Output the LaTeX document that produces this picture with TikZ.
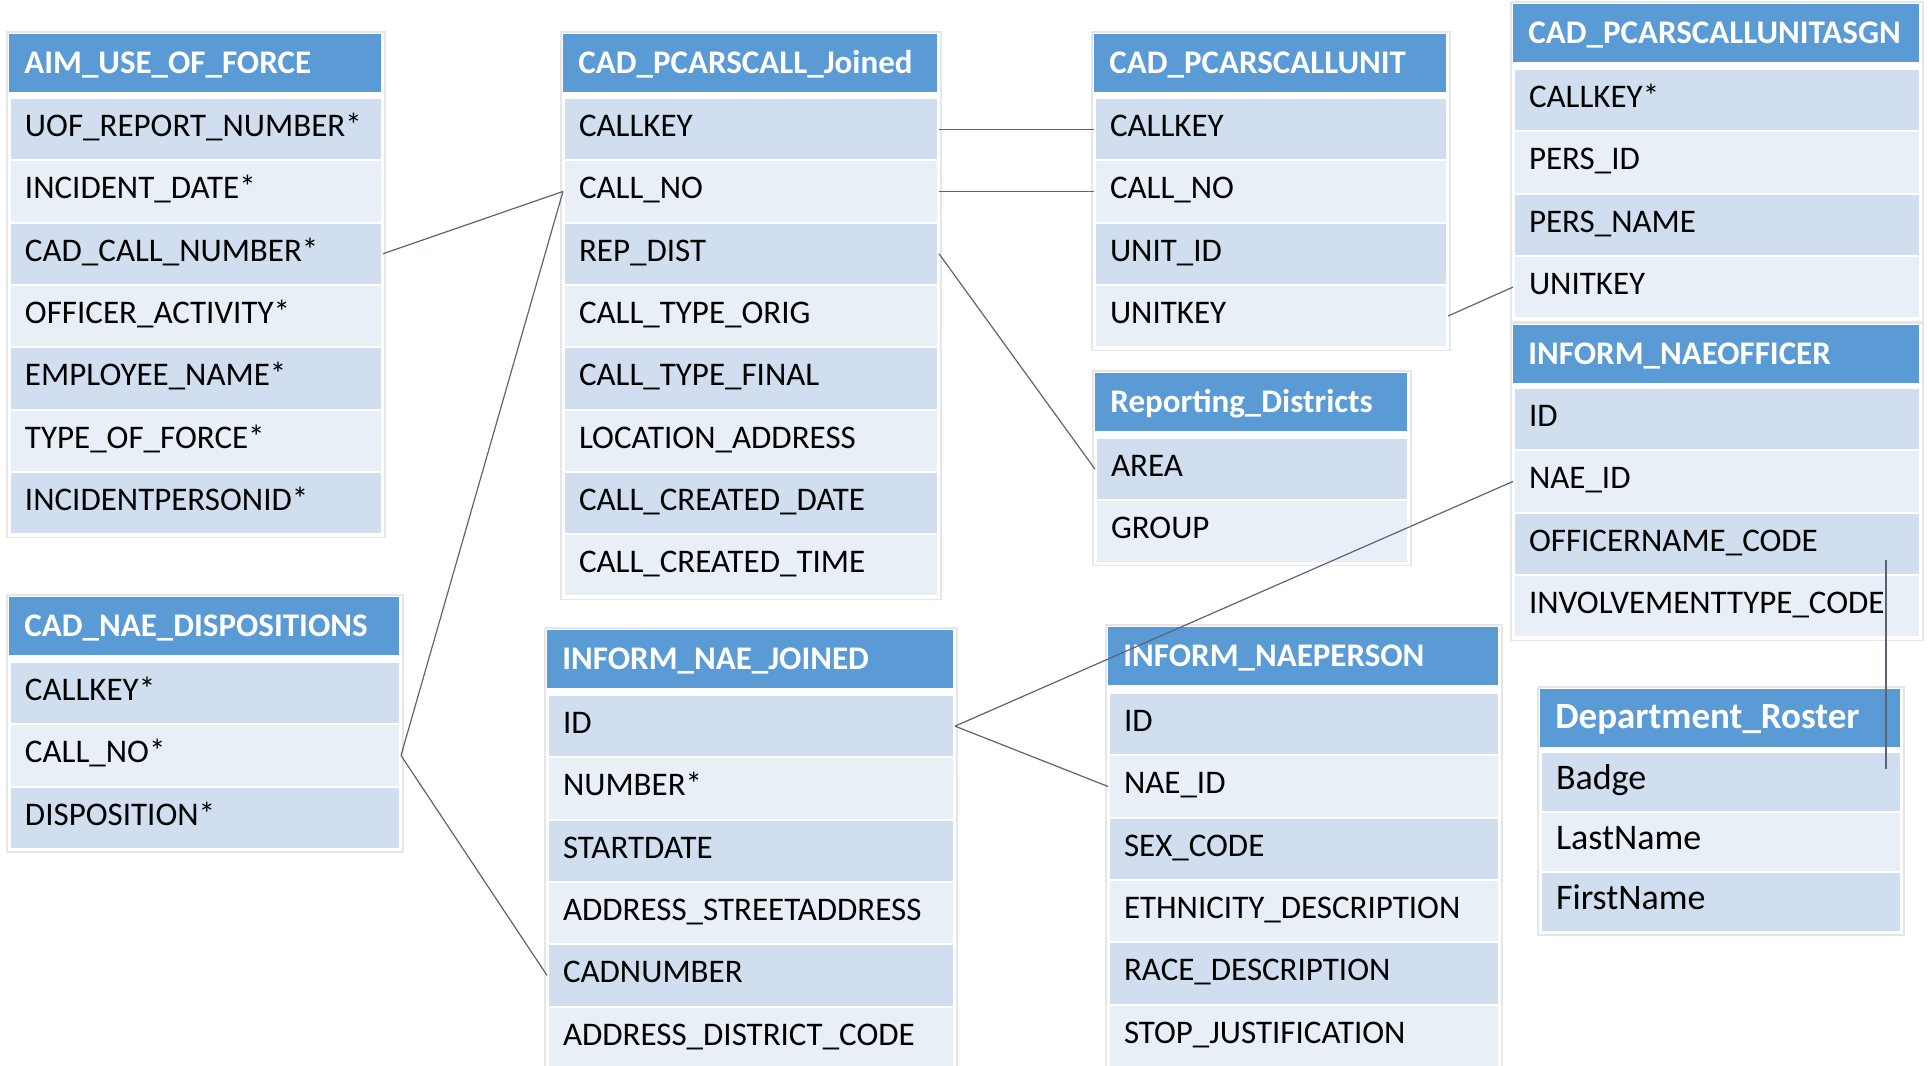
\documentclass[tikz,border=0pt]{standalone}
\usepackage{fontspec}
\setmainfont{Carlito}
\usepackage{xcolor}
\usepackage{tikz}

\definecolor{hdrblue}{HTML}{5B9BD5}
\definecolor{band1}{HTML}{D0DEEF}
\definecolor{band0}{HTML}{E9EFF7}
\definecolor{linkgray}{HTML}{5A6377}
\definecolor{framegray}{HTML}{E4E6EA}

\begin{document}
\begin{tikzpicture}[x=0.5pt, y=-0.5pt,
    tabhead/.style={anchor=north west, fill=hdrblue, text=white, font=\fontsize{16.5}{19}\selectfont\bfseries,
      inner xsep=7.5pt, inner ysep=0pt, minimum height=29pt, text height=11pt, text depth=1pt,
      text width=#1*0.5pt-15pt, align=left},
    tabrow/.style={anchor=north west, draw=white, line width=1pt, font=\fontsize{16.5}{19}\selectfont,
      inner xsep=7.5pt, inner ysep=0pt, minimum height=31.15pt, text height=11pt, text depth=3.5pt,
      text width=#1*0.5pt-15pt, align=left},
    tabframe/.style={draw=framegray, line width=0.6pt},
    link/.style={draw=linkgray, line width=0.6pt}]
      \useasboundingbox (0,0) rectangle (1929,1066);

      % AIM_USE_OF_FORCE
      \node[tabhead=372] (uof) at (9,34) {AIM\_USE\_OF\_FORCE};
      \foreach \txt [count=\i, evaluate=\i as \bnd using {int(mod(\i,2))}] in
        {UOF\_REPORT\_NUMBER*, INCIDENT\_DATE*, CAD\_CALL\_NUMBER*, OFFICER\_ACTIVITY*,
         EMPLOYEE\_NAME*, TYPE\_OF\_FORCE*, INCIDENTPERSONID*}
        \node[tabrow=372, fill=band\bnd] (uof-\i) at (9,{97+(\i-1)*62.3}) {\txt};

      % CAD_PCARSCALL_Joined
      \node[tabhead=374] (call) at (563,34) {CAD\_PCARSCALL\_Joined};
      \foreach \txt [count=\i, evaluate=\i as \bnd using {int(mod(\i,2))}] in
        {CALLKEY, CALL\_NO, REP\_DIST, CALL\_TYPE\_ORIG, CALL\_TYPE\_FINAL,
         LOCATION\_ADDRESS, CALL\_CREATED\_DATE, CALL\_CREATED\_TIME}
        \node[tabrow=374, fill=band\bnd] (call-\i) at (563,{97+(\i-1)*62.3}) {\txt};

      % CAD_PCARSCALLUNIT
      \node[tabhead=352] (unit) at (1094,34) {CAD\_PCARSCALLUNIT};
      \foreach \txt [count=\i, evaluate=\i as \bnd using {int(mod(\i,2))}] in
        {CALLKEY, CALL\_NO, UNIT\_ID, UNITKEY}
        \node[tabrow=352, fill=band\bnd] (unit-\i) at (1094,{97+(\i-1)*62.3}) {\txt};

      % CAD_PCARSCALLUNITASGN
      \node[tabhead=406] (asgn) at (1513,4) {CAD\_PCARSCALLUNITASGN};
      \foreach \txt [count=\i, evaluate=\i as \bnd using {int(mod(\i,2))}] in
        {CALLKEY*, PERS\_ID, PERS\_NAME, UNITKEY}
        \node[tabrow=406, fill=band\bnd] (asgn-\i) at (1513,{68+(\i-1)*62.3}) {\txt};

      % INFORM_NAEOFFICER
      \node[tabhead=406] (off) at (1513,325) {INFORM\_NAEOFFICER};
      \foreach \txt [count=\i, evaluate=\i as \bnd using {int(mod(\i,2))}] in
        {ID, NAE\_ID, OFFICERNAME\_CODE, INVOLVEMENTTYPE\_CODE}
        \node[tabrow=406, fill=band\bnd] (off-\i) at (1513,{387+(\i-1)*62.3}) {\txt};

      % Reporting_Districts
      \node[tabhead=312] (rd) at (1095,373) {Reporting\_Districts};
      \foreach \txt [count=\i, evaluate=\i as \bnd using {int(mod(\i,2))}] in
        {AREA, GROUP}
        \node[tabrow=312, fill=band\bnd] (rd-\i) at (1095,{437+(\i-1)*62.3}) {\txt};

      % INFORM_NAEPERSON
      \node[tabhead=390] (pers) at (1108,627) {INFORM\_NAEPERSON};
      \foreach \txt [count=\i, evaluate=\i as \bnd using {int(mod(\i,2))}] in
        {ID, NAE\_ID, SEX\_CODE, ETHNICITY\_DESCRIPTION, RACE\_DESCRIPTION, STOP\_JUSTIFICATION}
        \node[tabrow=390, fill=band\bnd] (pers-\i) at (1108,{692+(\i-1)*62.3}) {\txt};

      % INFORM_NAE_JOINED
      \node[tabhead=406] (nae) at (547,630) {INFORM\_NAE\_JOINED};
      \foreach \txt [count=\i, evaluate=\i as \bnd using {int(mod(\i,2))}] in
        {ID, NUMBER*, STARTDATE, ADDRESS\_STREETADDRESS, CADNUMBER, ADDRESS\_DISTRICT\_CODE}
        \node[tabrow=406, fill=band\bnd] (nae-\i) at (547,{694+(\i-1)*62.3}) {\txt};

      % CAD_NAE_DISPOSITIONS
      \node[tabhead=390] (disp) at (9,597) {CAD\_NAE\_DISPOSITIONS};
      \foreach \txt [count=\i, evaluate=\i as \bnd using {int(mod(\i,2))}] in
        {CALLKEY*, CALL\_NO*, DISPOSITION*}
        \node[tabrow=390, fill=band\bnd] (disp-\i) at (9,{661+(\i-1)*62.3}) {\txt};

      % Department_Roster
      \node[tabhead=360, font=\fontsize{18.5}{21}\selectfont\bfseries] (roster) at (1540,689) {Department\_Roster};
      \foreach \txt [count=\i, evaluate=\i as \bnd using {int(mod(\i,2))}] in
        {Badge, LastName, FirstName}
        \node[tabrow=360, minimum height=30pt, font=\fontsize{18}{21}\selectfont, fill=band\bnd]
          (roster-\i) at (1540,{751+(\i-1)*60}) {\txt};

      % faint frames round the tables
      \draw[tabframe] ([shift={(-1pt,1pt)}]uof.north west) rectangle ([shift={(1pt,-1pt)}]uof-7.south east);
      \draw[tabframe] ([shift={(-1pt,1pt)}]call.north west) rectangle ([shift={(1pt,-1pt)}]call-8.south east);
      \draw[tabframe] ([shift={(-1pt,1pt)}]unit.north west) rectangle ([shift={(1pt,-1pt)}]unit-4.south east);
      \draw[tabframe] ([shift={(-1pt,1pt)}]asgn.north west) rectangle ([shift={(1pt,-1pt)}]asgn-4.south east);
      \draw[tabframe] ([shift={(-1pt,1pt)}]off.north west) rectangle ([shift={(1pt,-1pt)}]off-4.south east);
      \draw[tabframe] ([shift={(-1pt,1pt)}]rd.north west) rectangle ([shift={(1pt,-1pt)}]rd-2.south east);
      \draw[tabframe] ([shift={(-1pt,1pt)}]pers.north west) rectangle ([shift={(1pt,0pt)}]pers-6.south east);
      \draw[tabframe] ([shift={(-1pt,1pt)}]nae.north west) rectangle ([shift={(1pt,0pt)}]nae-6.south east);
      \draw[tabframe] ([shift={(-1pt,1pt)}]disp.north west) rectangle ([shift={(1pt,-1pt)}]disp-3.south east);
      \draw[tabframe] ([shift={(-1pt,1pt)}]roster.north west) rectangle ([shift={(1pt,-1pt)}]roster-3.south east);

      % links
      \draw[link] (uof-3.east) -- (call-2.west);
      \draw[link] (disp-2.east) -- (call-2.west);
      \draw[link] (disp-2.east) -- (nae-5.west);
      \draw[link] (call-1.east) -- (unit-1.west);
      \draw[link] (call-2.east) -- (unit-2.west);
      \draw[link] (call-3.east) -- (rd-1.west);
      \draw[link] (unit-4.east) -- (asgn-4.west);
      \draw[link] (nae-1.east) -- (off-2.west);
      \draw[link] (nae-1.east) -- (pers-2.west);
      \coordinate (offcode) at (1886,560);
      \coordinate (badge) at (1886,769);
      \draw[link] (offcode) -- (badge);
    \end{tikzpicture}
\end{document}
